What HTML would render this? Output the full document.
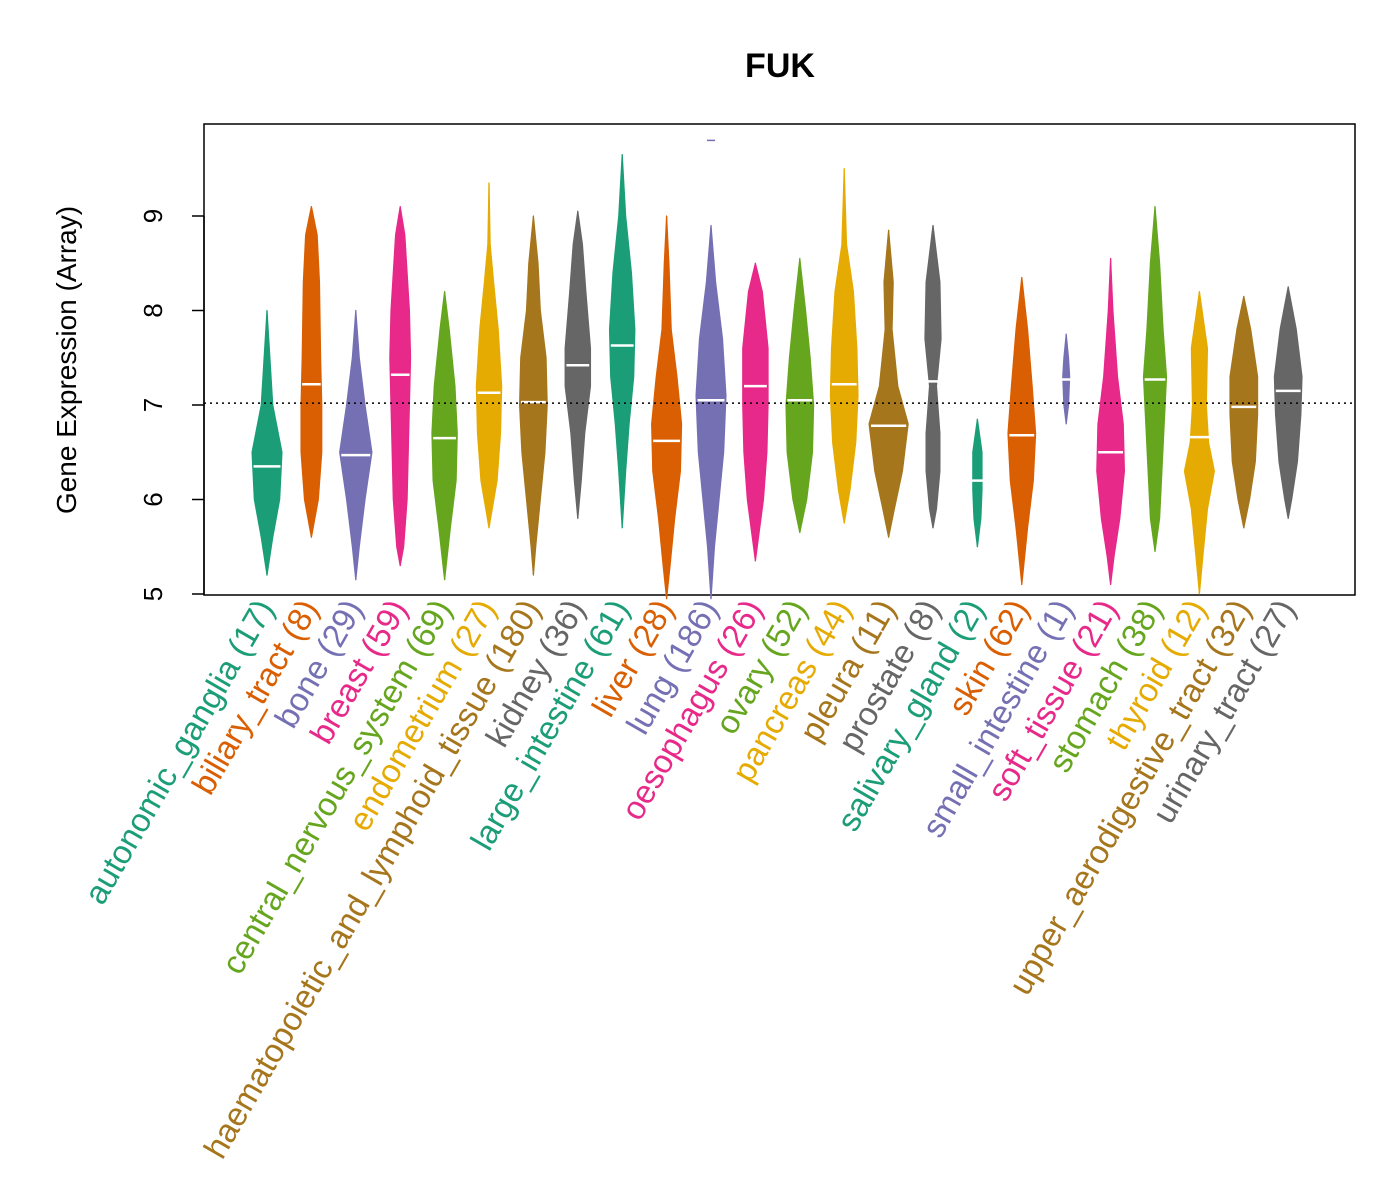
<!DOCTYPE html>
<html><head><meta charset="utf-8"><style>
body{margin:0;background:#fff}
svg{display:block;font-family:"Liberation Sans",Arial,sans-serif}
</style></head><body>
<svg id="chart" width="1400" height="1200" viewBox="0 0 1400 1200">
<text x="780" y="77" font-size="34" font-weight="bold" text-anchor="middle">FUK</text>
<rect x="204" y="124" width="1151" height="471" fill="none" stroke="#000" stroke-width="1.5"/>
<text transform="translate(76,360) rotate(-90)" font-size="28" text-anchor="middle">Gene Expression (Array)</text>
<g id="axis"></g>
<g id="viol"></g>
<g id="labs"></g>
</svg>
<script>
const categories=["autonomic_ganglia","biliary_tract","bone","breast","central_nervous_system","endometrium","haematopoietic_and_lymphoid_tissue","kidney","large_intestine","liver","lung","oesophagus","ovary","pancreas","pleura","prostate","salivary_gland","skin","small_intestine","soft_tissue","stomach","thyroid","upper_aerodigestive_tract","urinary_tract"];
const counts=[17,8,29,59,69,27,180,36,61,28,186,26,52,44,11,8,2,62,1,21,38,12,32,27];
const medians=[6.35,7.22,6.47,7.32,6.65,7.13,7.03,7.42,7.63,6.62,7.05,7.2,7.05,7.22,6.78,7.25,6.2,6.68,7.27,6.5,7.27,6.66,6.98,7.15];
const profileValues=[
[8.0,7.6,7.0,6.5,6.0,5.6,5.2],
[9.1,8.8,8.3,7.5,7.0,6.5,6.0,5.6],
[8.0,7.5,7.0,6.5,6.0,5.5,5.15],
[9.1,8.8,8.0,7.5,7.0,6.5,6.0,5.5,5.3],
[8.2,7.8,7.2,6.7,6.2,5.7,5.15],
[9.35,8.7,8.3,7.8,7.2,6.7,6.2,5.7],
[9.0,8.5,8.0,7.5,7.0,6.5,6.0,5.5,5.2],
[9.05,8.7,8.2,7.6,7.2,6.7,6.2,5.8],
[9.65,9.0,8.4,7.8,7.3,6.8,6.3,5.7],
[9.0,8.5,7.8,7.3,6.8,6.3,5.8,5.3,4.95],
[8.9,8.3,7.7,7.1,6.5,6.0,5.5,4.95],
[8.5,8.2,7.6,7.0,6.5,6.0,5.35],
[8.55,8.0,7.5,7.0,6.5,6.0,5.65],
[9.5,8.7,8.2,7.6,7.1,6.6,6.1,5.75],
[8.85,8.3,7.8,7.2,6.8,6.3,5.9,5.6],
[8.9,8.3,7.7,7.2,6.7,6.3,5.9,5.7],
[6.85,6.5,6.1,5.8,5.5],
[8.35,7.8,7.2,6.7,6.2,5.7,5.1],
[7.75,7.5,7.3,7.0,6.8],
[8.55,8.0,7.3,6.8,6.3,5.8,5.4,5.1],
[9.1,8.5,7.8,7.3,6.8,6.3,5.8,5.45],
[8.2,7.6,7.0,6.6,6.3,5.9,5.4,5.0],
[8.15,7.8,7.3,6.9,6.4,6.0,5.7],
[8.25,7.8,7.3,6.9,6.4,6.0,5.8]];
const profileDensity=[
[0,2,5,13,11,5,0],
[0,5,7,8,9,9,6,0],
[0,3,8,14,8,3,0],
[0,4,8,9,8,7,6,3,0],
[0,4,9,11,10,5,0],
[0,1,4,8,11,10,7,0],
[0,4,6,11,12,10,6,2,0],
[0,4,7,11,11,6,3,0],
[0,3,8,11,10,6,3,0],
[0,2,4,9,13,12,7,3,0],
[0,4,10,13,11,7,3,0],
[0,6,11,11,10,7,0],
[0,5,9,12,11,6,0],
[0,2,8,11,12,10,5,0],
[0,4,3,8,17,12,5,0],
[0,6,7,3,6,6,3,0],
[0,4,4,3,0],
[0,5,9,12,10,5,0],
[0,2,3,2,0],
[0,2,6,11,12,8,3,0],
[0,4,7,10,8,6,4,0],
[0,7,6,8,13,7,3,0],
[0,6,12,12,10,5,0],
[0,7,12,11,8,3,0]];
const outliers=[[],[],[],[],[],[],[],[],[],[],[9.8],[],[],[],[],[],[],[],[],[],[],[],[],[]];
const yTicks=[5,6,7,8,9];
const refLine=7.02;
const colors=["#1B9E77","#D95F02","#7570B3","#E7298A","#66A61E","#E6AB02","#A6761D","#666666"];
const NS="http://www.w3.org/2000/svg";
const y=v=>594-(v-5)*94.5;
const x=i=>267+i*44.4;
const wScale=1.15;
function mk(tag,attrs,parent){const e=document.createElementNS(NS,tag);for(const k in attrs)e.setAttribute(k,attrs[k]);parent.appendChild(e);return e;}
const axis=document.getElementById('axis');
mk('line',{x1:204,x2:204,y1:y(9),y2:y(5),stroke:'#000','stroke-width':1.5},axis);
yTicks.forEach(t=>{
 const l=mk('line',{x1:192,x2:204,y1:y(t),y2:y(t),stroke:'#000','stroke-width':1.5},axis);
 
 
 const tx=mk('text',{transform:`translate(162,${y(t)}) rotate(-90)`,'font-size':26,'text-anchor':'middle'},axis);
 tx.textContent=t;
 
 
});
const viol=document.getElementById('viol');
const labs=document.getElementById('labs');
categories.forEach((c,i)=>{
 const col=colors[i%8],cx=x(i),vs=profileValues[i],ds=profileDensity[i].map(d=>d*wScale);
 let pts=[];
 vs.forEach((v,k)=>pts.push([cx+ds[k],y(v)]));
 for(let k=vs.length-1;k>=0;k--)pts.push([cx-ds[k],y(vs[k])]);
 const p=mk('polygon',{points:pts.map(q=>q.join(',')).join(' '),fill:col,stroke:col,'stroke-width':1.2,'stroke-linejoin':'round'},viol);
 
 
 const ln=mk('line',{x1:cx,x2:cx,y1:y(vs[0]),y2:y(vs[vs.length-1]),stroke:col,'stroke-width':1.2},viol);
 
 
 const mw=Math.max(6,Math.max(...ds)*0.9);
 const m=mk('line',{x1:cx-mw,x2:cx+mw,y1:y(medians[i]),y2:y(medians[i]),stroke:'#fff','stroke-width':2.5},viol);
 
 
 outliers[i].forEach(o=>{
  const ol=mk('line',{x1:cx-4,x2:cx+4,y1:y(o),y2:y(o),stroke:col,'stroke-width':1.5},viol);
  
  
 });
 const t=mk('text',{transform:`translate(${cx+8},608) rotate(-60)`,'font-size':33,'text-anchor':'end',fill:col},labs);
 t.textContent=c+' ('+counts[i]+')';
 
 
});
const rl=mk('line',{x1:204,x2:1355,y1:y(refLine),y2:y(refLine),stroke:'#000','stroke-width':1.5,'stroke-dasharray':'2,4'},viol);


</script>
</body></html>
